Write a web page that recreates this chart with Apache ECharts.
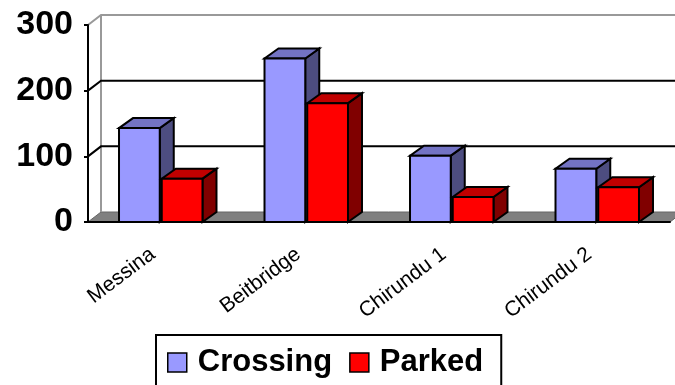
<!DOCTYPE html>
<html>
<head>
<meta charset="utf-8">
<title>Crossing vs Parked</title>
<script src="https://cdn.jsdelivr.net/npm/echarts@6/dist/echarts.min.js"></script>
<style>
  html, body { margin: 0; padding: 0; background: #fff; }
  #chart { width: 675px; height: 385px; }
</style>
</head>
<body>
<div id="chart"></div>
<script>
const categories = ['Messina', 'Beitbridge', 'Chirundu 1', 'Chirundu 2']
const crossing = [143, 249, 101, 81]
const parked = [66, 181, 38, 53]
const yTicks = [0, 100, 200, 300]

const FONT = '"Liberation Sans", Arial, sans-serif'
const DEPTH = [14, -10] // fake 3d offset of the bars
const WALL = [13, -10]  // offset of the back wall

// front / top / side shades
const shades = [
  ['#9999FF', '#7373C4', '#4D4D80'],
  ['#FF0000', '#C00000', '#800000']
]

function barItem(seriesIdx) {
  return function(params, api) {
    const idx = api.value(0)
    const top = api.coord([idx, api.value(1)])
    const base = api.coord([idx, 0])
    const band = api.size([1, 0])[0]
    const w = band * 0.28
    const gap = 2
    const x0 = seriesIdx === 0 ? top[0] - gap / 2 - w : top[0] + gap / 2
    const x1 = x0 + w
    const y0 = base[1]
    const y1 = top[1]
    const dx = DEPTH[0]
    const dy = DEPTH[1]
    const c = shades[seriesIdx]
    const edge = { stroke: '#000', lineWidth: 2, lineJoin: 'miter' }
    return {
      type: 'group',
      children: [
        {
          type: 'polygon',
          shape: { points: [[x1, y0], [x1 + dx, y0 + dy], [x1 + dx, y1 + dy], [x1, y1]] },
          style: Object.assign({ fill: c[2] }, edge)
        },
        {
          type: 'polygon',
          shape: { points: [[x0, y1], [x1, y1], [x1 + dx, y1 + dy], [x0 + dx, y1 + dy]] },
          style: Object.assign({ fill: c[1] }, edge)
        },
        {
          type: 'rect',
          shape: { x: x0, y: y1, width: w, height: y0 - y1 },
          style: Object.assign({ fill: c[0] }, edge)
        }
      ]
    }
  }
}

// floor, left wall and back wall grid lines
function wallItem(params, api) {
  const cs = params.coordSys
  const dx = WALL[0]
  const dy = WALL[1]
  const left = cs.x
  const right = cs.x + cs.width
  const y0 = api.coord([0, 0])[1]
  const yTop = api.coord([0, yTicks[yTicks.length - 1]])[1]
  const children = [
    {
      type: 'polygon',
      shape: { points: [[left, y0], [left + dx, y0 + dy], [right + dx, y0 + dy], [right, y0]] },
      style: { fill: '#808080', stroke: '#666', lineWidth: 1 }
    },
    {
      type: 'line',
      shape: { x1: left + dx, y1: y0 + dy, x2: left + dx, y2: yTop + dy },
      style: { stroke: '#999', lineWidth: 2 }
    }
  ]
  yTicks.forEach(function(v, i) {
    if (v === 0) return
    const y = api.coord([0, v])[1]
    const last = i === yTicks.length - 1
    children.push({
      type: 'polyline',
      shape: { points: [[left, y], [left + dx, y + dy], [right + dx, y + dy]] },
      style: { stroke: last ? '#999' : '#000', lineWidth: 2, fill: null }
    })
  })
  return { type: 'group', children: children }
}

const chart = echarts.init(document.getElementById('chart'))

chart.setOption({
  animation: false,
  textStyle: { fontFamily: FONT },
  grid: {
    left: 88,
    right: 5,
    top: 25,
    bottom: 163
  },
  legend: {
    data: ['Crossing', 'Parked'],
    left: 156,
    top: 335,
    padding: [12, 18, 12, 11],
    borderColor: '#000',
    borderWidth: 2,
    icon: 'rect',
    itemWidth: 19,
    itemHeight: 19,
    itemGap: 17,
    itemStyle: { borderColor: '#000', borderWidth: 1.5 },
    textStyle: {
      fontFamily: FONT,
      fontSize: 31,
      fontWeight: 'bold',
      color: '#000',
      padding: [0, 0, 0, 6]
    }
  },
  xAxis: {
    type: 'category',
    data: categories,
    z: 5,
    axisLine: { lineStyle: { color: '#000', width: 2 } },
    axisTick: { length: 5, lineStyle: { color: '#000', width: 2 } },
    axisLabel: {
      rotate: 37,
      fontFamily: FONT,
      fontSize: 21,
      color: '#000',
      margin: 24,
      padding: [0, 10, 0, 0]
    }
  },
  yAxis: {
    type: 'value',
    min: 0,
    max: 300,
    interval: 100,
    z: 5,
    axisLine: { show: true, lineStyle: { color: '#000', width: 2 } },
    axisTick: { show: true, length: 4, lineStyle: { color: '#000', width: 2 } },
    splitLine: { show: false },
    axisLabel: {
      fontFamily: FONT,
      fontSize: 34,
      fontWeight: 'bold',
      color: '#000',
      margin: 15
    }
  },
  series: [
    {
      type: 'custom',
      silent: true,
      clip: false,
      z: 1,
      renderItem: wallItem,
      data: [[0, 0]]
    },
    {
      name: 'Crossing',
      type: 'custom',
      clip: false,
      z: 2,
      itemStyle: { color: shades[0][0] },
      renderItem: barItem(0),
      data: crossing.map(function(v, i) { return [i, v] })
    },
    {
      name: 'Parked',
      type: 'custom',
      clip: false,
      z: 3,
      itemStyle: { color: shades[1][0] },
      renderItem: barItem(1),
      data: parked.map(function(v, i) { return [i, v] })
    }
  ]
})
</script>
</body>
</html>
